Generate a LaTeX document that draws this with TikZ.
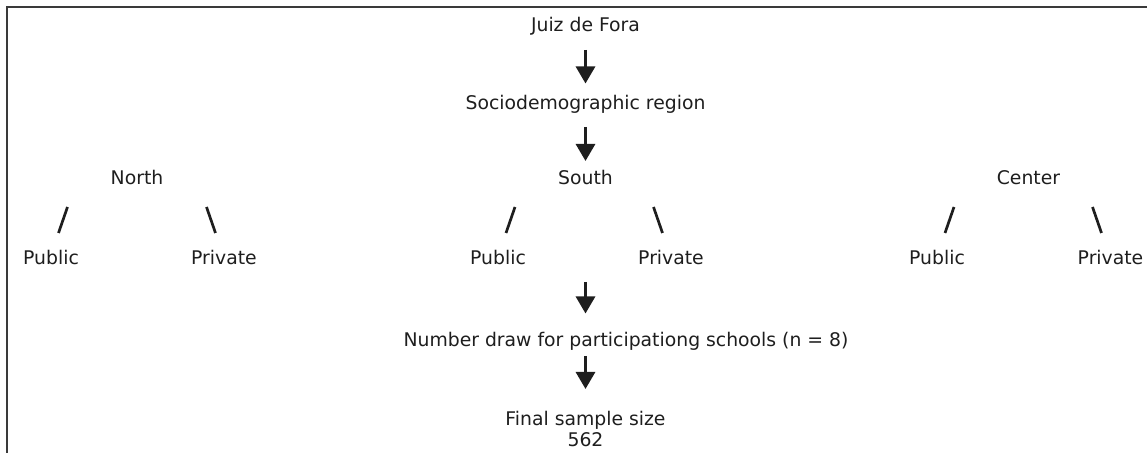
\documentclass[tikz,border=0pt]{standalone}
\usepackage{fontspec}
\setmainfont{DejaVu Sans}
\usetikzlibrary{arrows.meta,positioning}
\definecolor{flowink}{HTML}{1E1E1E}
\definecolor{flowrule}{HTML}{3A3A3A}
\tikzset{
  lbl/.style={anchor=base, inner sep=0pt, text=flowink, font=\fontsize{9.4}{10.5}\selectfont, align=center},
  arr/.style={-{Triangle[length=8.5pt,width=9.5pt]}, line width=1.5pt, color=flowink},
  slash/.style={line width=1.35pt, color=flowink},
  frame/.style={line width=1pt, color=flowrule},
}
\begin{document}
\begin{tikzpicture}[x=0.5pt,y=-0.5pt]
  \useasboundingbox (0,0) rectangle (1147,453);
  \draw[frame] (7,453) -- (7,7.5) -- (1147,7.5);
  \node[lbl] (juiz) at (585.5,32) {Juiz de Fora};
  \node[lbl] (socio) at (585.5,110) {Sociodemographic region};
  % regions with their public / private split
  \foreach \r/\t/\x/\p/\q/\u/\v in {north/North/137/51/224/63/211,south/South/585.5/498/671/510.5/658,center/Center/1028.5/937/1110.5/949.5/1097}
    { \node[lbl] (\r) at (\x,184.3) {\t};
      \node[lbl] (\r-pub) at (\p,265) {Public};
      \node[lbl] (\r-priv) at (\q,265) {Private};
      \coordinate (\r-pa) at (\u+4.5,207); \coordinate (\r-pb) at (\u-4.5,233);
      \coordinate (\r-qa) at (\v-4.5,207); \coordinate (\r-qb) at (\v+4.5,233);
      \draw[slash] (\r-pa) -- (\r-pb); \draw[slash] (\r-qa) -- (\r-qb); }
  \coordinate (sp) at (585.5,265);
  \node[lbl] (num) at (626,346.7) {Number draw for participationg schools (n = 8)};
  \coordinate (nx) at (sp |- num.base);
  \node[lbl] (final) at (585.5,446.7) {Final sample size\\562};
  \foreach \a/\b/\s/\e in {juiz.base/socio.base/9/13.25,socio.base/south.base/8.5/11.65,sp/nx/8.5/16.6,nx/final.base/4.65/28.85}
    \draw[arr, shorten <=\s pt, shorten >=\e pt] (\a) -- (\b);
\end{tikzpicture}
\end{document}
